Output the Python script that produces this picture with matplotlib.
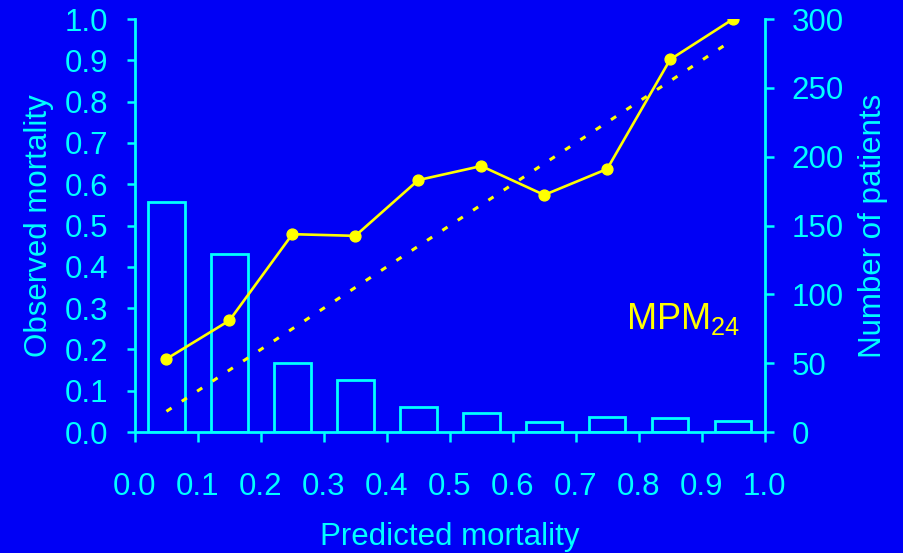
import numpy as np
import matplotlib
matplotlib.use("Agg")
import matplotlib.pyplot as plt

# ── data ──────────────────────────────────────
bin_mid   = [0.05, 0.15, 0.25, 0.35, 0.45, 0.55, 0.65, 0.75, 0.85, 0.95]
observed  = [0.177, 0.27, 0.479, 0.475, 0.61, 0.644, 0.574, 0.637, 0.902, 1.0]
predicted = [0.05, 0.15, 0.25, 0.35, 0.45, 0.55, 0.65, 0.75, 0.85, 0.945]
patients  = [167, 129, 50, 38, 18, 14, 7, 11, 10, 8]

x_ticks  = np.round(np.arange(0, 1.01, 0.1), 1)
yl_ticks = np.round(np.arange(0, 1.01, 0.1), 1)
yr_ticks = [0, 50, 100, 150, 200, 250, 300]

# ── style ─────────────────────────────────────
BG     = "#0000F5"
CYAN   = "#00FFFF"
YELLOW = "#FFFF00"
plt.rcParams["font.family"] = ["Liberation Sans", "DejaVu Sans"]
plt.rcParams["mathtext.fontset"] = "custom"
plt.rcParams["mathtext.rm"] = "Liberation Sans"
plt.rcParams["mathtext.it"] = "Liberation Sans"
plt.rcParams["mathtext.default"] = "rm"

fig = plt.figure(figsize=(9.04, 5.53), dpi=100, facecolor=BG)
ax = fig.add_axes([0.1493, 0.2188, 0.6965, 0.7468])
ax2 = ax.twinx()
ax.set_zorder(ax2.get_zorder() + 1)
ax.patch.set_visible(False)
ax2.set_facecolor(BG)

# bars (right axis)
ax2.bar(bin_mid, patients, width=0.058, facecolor="none", edgecolor=CYAN,
        linewidth=2, zorder=2)

# observed vs predicted (left axis)
ax.plot(predicted, predicted, color=YELLOW, linewidth=2.2,
        linestyle=(0, (2, 4)), zorder=3)
ax.plot(bin_mid, observed, color=YELLOW, linewidth=1.9, marker="o",
        markersize=7.8, zorder=4)

ax.set_xlim(0, 1)
ax.set_ylim(0, 1)
ax2.set_ylim(0, 300)

ax.set_xticks(x_ticks)
ax.set_xticklabels([f"{v:.1f}" for v in x_ticks])
ax.set_yticks(yl_ticks)
ax.set_yticklabels([f"{v:.1f}" for v in yl_ticks])
ax2.set_yticks(yr_ticks)

for a in (ax, ax2):
    for s in a.spines.values():
        s.set_color(CYAN)
        s.set_linewidth(2)
    a.spines["top"].set_visible(False)
    a.tick_params(colors=CYAN, labelsize=22.5, width=1.8, direction="out")

ax.spines["right"].set_visible(False)
ax2.spines["left"].set_visible(False)
ax2.spines["bottom"].set_visible(False)
ax.tick_params(axis="x", length=7.5, pad=21)
ax.tick_params(axis="y", length=6, pad=13)
ax2.tick_params(axis="y", length=6.5, pad=13)

ax.set_xlabel("Predicted mortality", color=CYAN, fontsize=22.5, labelpad=15)
ax.set_ylabel("Observed mortality", color=CYAN, fontsize=22.5, labelpad=8)
ax2.set_ylabel("Number of patients", color=CYAN, fontsize=22.5, labelpad=10)

ax.text(0.78, 0.25, r"MPM$_{24}$", color=YELLOW, fontsize=26,
        transform=ax.transAxes, ha="left", va="baseline")

fig.savefig("out.png", dpi=100, facecolor=BG)
